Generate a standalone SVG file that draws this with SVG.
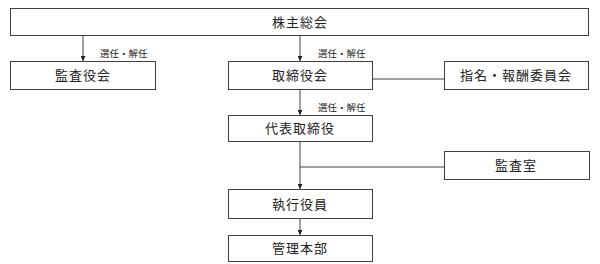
<svg xmlns="http://www.w3.org/2000/svg" width="600" height="264" viewBox="0 0 600 264">
<style>
.box{fill:#fff;stroke:#404040;stroke-width:1}
.t{font-family:"Noto Sans CJK JP","Noto Sans CJK SC",sans-serif;font-size:13px;fill:#222;text-anchor:middle;letter-spacing:1px}
.s{font-family:"Noto Sans CJK JP","Noto Sans CJK SC",sans-serif;font-size:9.5px;fill:#222}
.ln{stroke:#404040;stroke-width:1;fill:none}
</style>
<defs>
<marker id="ah" viewBox="0 0 8 8" refX="8" refY="4" markerWidth="5" markerHeight="5" orient="auto" markerUnits="userSpaceOnUse">
<path d="M0,0 L8,4 L0,8 z" fill="#222"/>
</marker>
</defs>
<g id="connectors">
<line class="ln" x1="83" y1="35" x2="83" y2="61" marker-end="url(#ah)"/>
<line class="ln" x1="300" y1="35" x2="300" y2="61" marker-end="url(#ah)"/>
<line class="ln" x1="300" y1="89" x2="300" y2="115" marker-end="url(#ah)"/>
<line class="ln" x1="300" y1="141" x2="300" y2="189" marker-end="url(#ah)"/>
<line class="ln" x1="300" y1="218" x2="300" y2="235" marker-end="url(#ah)"/>
<line class="ln" x1="372" y1="79" x2="444" y2="79"/>
<line class="ln" x1="300" y1="167" x2="444" y2="167"/>
<text class="s" x="100" y="57">選任・解任</text>
<text class="s" x="318" y="57">選任・解任</text>
<text class="s" x="318" y="111">選任・解任</text>
</g>
<g id="shareholders">
<rect class="box" x="10.5" y="8.5" width="578" height="27"/>
<text class="t" x="300" y="27">株主総会</text>
</g>
<g id="auditBoard">
<rect class="box" x="10.5" y="61.5" width="145" height="28"/>
<text class="t" x="83" y="80">監査役会</text>
</g>
<g id="board">
<rect class="box" x="228.5" y="61.5" width="144" height="28"/>
<text class="t" x="300" y="80">取締役会</text>
</g>
<g id="committee">
<rect class="box" x="444.5" y="61.5" width="144" height="28"/>
<text class="t" x="516" y="80">指名・報酬委員会</text>
</g>
<g id="representative">
<rect class="box" x="228.5" y="115.5" width="144" height="26"/>
<text class="t" x="300" y="133">代表取締役</text>
</g>
<g id="auditOffice">
<rect class="box" x="444.5" y="151.5" width="145" height="28"/>
<text class="t" x="516" y="170">監査室</text>
</g>
<g id="officers">
<rect class="box" x="228.5" y="189.5" width="144" height="29"/>
<text class="t" x="300" y="209">執行役員</text>
</g>
<g id="admin">
<rect class="box" x="228.5" y="235.5" width="144" height="26"/>
<text class="t" x="300" y="253">管理本部</text>
</g>
</svg>
